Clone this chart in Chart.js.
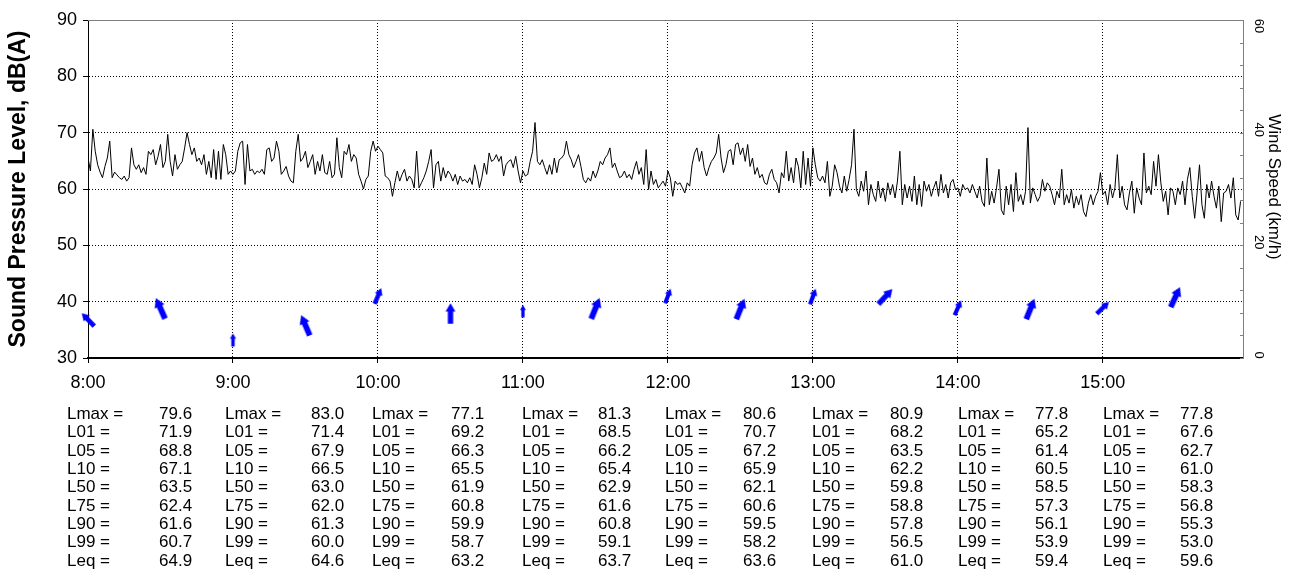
<!DOCTYPE html>
<html>
<head>
<meta charset="utf-8">
<script src="https://cdn.jsdelivr.net/npm/chart.js@4.4.1/dist/chart.umd.min.js"></script>
<style>
  html, body { margin: 0; padding: 0; background: #fff; }
  #wrap { position: relative; width: 1290px; height: 580px; overflow: hidden; }
  #c { position: absolute; left: 0; top: 0; }
  .cell { position: absolute; font: 17px "Liberation Sans", Arial, sans-serif; color: #000; white-space: pre; line-height: 18px; }
</style>
</head>
<body>
<div id="wrap">
  <canvas id="c" width="1290" height="580"></canvas>
  <div id="stats"></div>
</div>
<script>
// ---- hourly blocks (x axis labels) ----
const hourLabels = ['8:00', '9:00', '10:00', '11:00', '12:00', '13:00', '14:00', '15:00'];

// ---- one-minute sound pressure levels, dB(A), one array per hour ----
const spl08 = [65.5,63.2,70.6,66.7,64.3,63.0,62.0,64.0,65.5,68.5,62.0,63.0,62.5,62.0,61.7,62.3,61.4,62.0,67.3,64.3,
               63.5,64.3,62.9,63.8,62.6,66.7,66.1,67.0,64.3,65.8,67.9,63.8,64.9,69.7,64.9,62.3,66.1,63.5,64.3,64.9,
               67.3,70.0,67.9,66.1,67.3,64.9,65.5,64.3,66.1,62.6,64.9,62.0,67.0,61.7,66.7,61.7,67.9,66.1,62.6,63.2];
const spl09 = [62.6,63.2,66.7,68.2,68.5,60.8,67.9,63.2,63.5,62.6,63.2,62.9,63.5,62.6,67.0,67.3,64.9,65.5,68.5,66.7,
               62.6,63.2,64.0,62.3,61.4,61.1,66.7,69.7,64.9,65.5,66.7,63.8,64.9,66.1,62.6,64.9,63.2,66.1,62.9,62.6,
               64.9,62.0,62.6,69.1,63.8,62.0,66.7,66.1,67.9,64.9,66.1,65.5,62.6,61.4,60.0,61.7,62.3,66.7,68.5,66.7];
const spl10 = [67.6,67.0,66.4,62.3,62.0,61.4,58.7,61.1,63.2,61.4,62.6,63.5,61.4,62.3,61.7,60.2,66.7,60.2,61.1,62.0,
               63.2,64.9,67.0,60.2,64.3,64.9,61.4,63.8,62.0,63.2,62.6,61.4,62.6,60.8,62.3,61.4,61.7,61.1,62.0,60.8,
               64.3,62.6,60.2,62.0,64.6,62.6,66.4,64.9,65.2,66.1,64.9,65.8,62.3,64.3,64.9,65.2,63.8,65.8,63.2,61.1];
const spl11 = [63.2,62.3,62.6,64.9,66.7,71.8,64.9,64.3,65.2,63.8,62.6,64.3,62.6,65.5,62.9,65.2,65.5,66.1,68.5,66.1,
               65.2,63.8,64.9,66.1,64.0,61.7,61.1,62.0,61.4,63.2,62.0,63.2,64.9,64.3,65.5,66.1,67.3,63.8,64.6,63.2,
               62.0,62.3,63.2,62.0,62.6,61.7,63.5,64.9,62.6,63.8,60.8,67.0,59.9,63.2,60.8,61.7,60.2,60.8,61.4,60.5];
const spl12 = [63.2,62.0,58.7,61.4,60.8,61.1,60.2,59.3,61.1,60.5,64.3,66.4,67.3,64.9,66.7,63.8,62.3,63.8,64.9,65.5,
               66.4,69.7,65.5,62.9,64.3,66.7,67.0,64.3,67.9,68.2,66.1,67.3,64.9,67.9,64.0,65.5,62.6,63.8,62.0,62.6,
               61.1,60.8,62.6,63.5,61.7,61.1,59.3,62.9,62.0,66.7,61.4,63.8,61.1,65.5,64.0,60.2,66.7,60.8,65.5,60.5];
const spl13 = [67.3,64.3,62.0,61.4,62.3,61.1,64.9,58.7,60.5,64.3,62.9,60.5,59.3,62.3,59.6,61.7,64.3,70.6,59.9,58.7,
               61.4,59.6,63.2,57.2,60.8,59.0,57.8,61.4,58.4,60.2,57.8,61.1,59.0,60.8,58.4,61.4,66.7,57.2,60.8,58.4,
               60.5,57.8,62.3,57.2,60.8,56.9,61.4,59.6,60.8,58.7,60.2,61.4,58.7,62.6,59.3,60.8,58.4,61.1,61.7,59.9];
const spl14 = [60.2,58.7,60.8,59.9,60.2,59.3,60.8,59.6,58.4,60.5,57.8,56.9,65.5,57.2,59.6,57.5,60.2,63.5,56.3,55.4,
               60.5,57.2,60.8,56.0,62.9,57.8,59.0,57.2,59.6,70.9,57.5,60.2,59.0,57.8,58.7,61.7,59.6,61.1,60.5,59.0,
               57.2,59.6,58.4,63.5,57.2,59.0,57.5,59.9,56.6,58.7,57.2,59.0,56.0,55.1,57.5,59.0,57.2,58.7,59.6,62.9];
const spl15 = [59.0,59.6,57.2,60.8,58.4,60.2,66.1,58.4,60.5,57.2,56.3,59.3,61.4,55.7,60.2,58.4,57.2,66.4,59.3,60.5,
               59.0,64.9,60.5,66.1,61.1,57.8,59.6,55.4,60.2,59.6,57.2,60.2,59.0,61.4,57.2,61.7,63.8,58.7,54.8,59.3,
               64.3,57.2,54.8,60.8,58.4,61.4,58.7,56.6,60.5,54.2,59.3,59.6,60.8,58.4,62.0,55.4,54.5,57.8];

// ---- half-hourly wind: speed (km/h) and direction the arrow points (deg clockwise from up) ----
const windTime  = ['8:00','8:30','9:00','9:30','10:00','10:30','11:00','11:30','12:00','12:30','13:00','13:30','14:00','14:30','15:00','15:30'];
const windSpeed = [6.8, 8.8, 3.2, 5.8, 11.0, 7.9, 8.3, 8.8, 11.0, 8.7, 10.9, 10.9, 8.9, 8.7, 8.9, 10.8];
const windDir   = [316, 336, 0, 337, 23, 0, 0, 22, 21, 22, 20, 43, 24, 22, 46, 25];

// ---- hourly statistics, dB(A) ----
const lmax = [79.6, 83.0, 77.1, 81.3, 80.6, 80.9, 77.8, 77.8];
const l01  = [71.9, 71.4, 69.2, 68.5, 70.7, 68.2, 65.2, 67.6];
const l05  = [68.8, 67.9, 66.3, 66.2, 67.2, 63.5, 61.4, 62.7];
const l10  = [67.1, 66.5, 65.5, 65.4, 65.9, 62.2, 60.5, 61.0];
const l50  = [63.5, 63.0, 61.9, 62.9, 62.1, 59.8, 58.5, 58.3];
const l75  = [62.4, 62.0, 60.8, 61.6, 60.6, 58.8, 57.3, 56.8];
const l90  = [61.6, 61.3, 59.9, 60.8, 59.5, 57.8, 56.1, 55.3];
const l99  = [60.7, 60.0, 58.7, 59.1, 58.2, 56.5, 53.9, 53.0];
const leq  = [64.9, 64.6, 63.2, 63.7, 63.6, 61.0, 59.4, 59.6];

// ---- drawing styles ----
const FONT = '"Liberation Sans", Arial, sans-serif';
const ARROW_COLOR = '#0000ff';
const arrowLen = [18, 22.5, 13, 22, 17, 20.5, 12.5, 22.5, 15.5, 22, 16.5, 20.5, 16, 22, 17, 22];
const statLabelX = [67, 225, 372, 522, 665, 812, 958, 1103];
const statValueX = [159, 311, 451, 598, 743, 890, 1035, 1180];
const statTop0 = 405, statRowStep = 18.35;

// minutes after 8:00 for a clock string
const toMinutes = s => { const [h, m] = s.split(':').map(Number); return (h - 8) * 60 + m; };

// continuous one-minute series
const splSeries = [];
[spl08, spl09, spl10, spl11, spl12, spl13, spl14, spl15].forEach((arr, h) => {
  arr.forEach((v, i) => splSeries.push({ x: h * 60 + i, y: v }));
});
const windSeries = windTime.map((t, i) => ({ x: toMinutes(t), y: windSpeed[i] }));

// filled arrow pointing up, drawn into a small canvas used as a point style
function makeArrow(len) {
  const headW = len * 0.48, headL = len * 0.4, shaftW = len * 0.26;
  const w = Math.ceil(headW) + 2, h = Math.ceil(len) + 2;
  const c = document.createElement('canvas');
  c.width = w; c.height = h;
  const g = c.getContext('2d');
  const cx = w / 2, top = (h - len) / 2, bot = top + len;
  g.fillStyle = ARROW_COLOR;
  g.beginPath();
  g.moveTo(cx, top);
  g.lineTo(cx + headW / 2, top + headL);
  g.lineTo(cx + shaftW / 2, top + headL);
  g.lineTo(cx + shaftW / 2, bot);
  g.lineTo(cx - shaftW / 2, bot);
  g.lineTo(cx - shaftW / 2, top + headL);
  g.lineTo(cx - headW / 2, top + headL);
  g.closePath();
  g.fill();
  return c;
}
const arrowImages = arrowLen.map(makeArrow);

// frame top line, right-axis minor ticks, rotated right-axis labels and title
const framePlugin = {
  id: 'frame',
  afterDraw(chart) {
    const { ctx, chartArea: a } = chart;
    const y2 = chart.scales.y2;
    ctx.save();
    ctx.strokeStyle = '#808080';
    ctx.lineWidth = 1;
    ctx.beginPath();
    ctx.moveTo(a.left, a.top + 0.5);
    ctx.lineTo(a.right, a.top + 0.5);
    ctx.stroke();
    for (let v = 0; v <= 60; v += 4) {
      const p = Math.round(y2.getPixelForValue(v)) + 0.5;
      ctx.beginPath();
      ctx.moveTo(a.right - 3, p);
      ctx.lineTo(a.right, p);
      ctx.stroke();
    }
    ctx.fillStyle = '#000';
    ctx.textAlign = 'center';
    ctx.textBaseline = 'middle';
    ctx.font = '13px ' + FONT;
    [0, 20, 40, 60].forEach(v => {
      const p = Math.max(y2.getPixelForValue(v) - 3, a.top + 6);
      ctx.save();
      ctx.translate(a.right + 16, p);
      ctx.rotate(Math.PI / 2);
      ctx.fillText(String(v), 0, 0);
      ctx.restore();
    });
    ctx.font = '17px ' + FONT;
    ctx.save();
    ctx.translate(a.right + 31, (a.top + a.bottom) / 2 - 2);
    ctx.rotate(Math.PI / 2);
    ctx.fillText('Wind Speed (km/h)', 0, 0);
    ctx.restore();
    ctx.restore();
  }
};

Chart.defaults.font.family = FONT;
Chart.defaults.color = '#000';

new Chart(document.getElementById('c'), {
  type: 'line',
  data: {
    datasets: [
      {
        type: 'scatter',
        data: windSeries,
        yAxisID: 'y2',
        showLine: false,
        clip: false,
        pointRadius: 10,
        pointStyle: ctx => arrowImages[ctx.dataIndex],
        rotation: ctx => windDir[ctx.dataIndex],
        order: 0
      },
      {
        data: splSeries,
        yAxisID: 'y',
        borderColor: '#000',
        borderWidth: 1,
        pointRadius: 0,
        tension: 0,
        order: 1
      }
    ]
  },
  options: {
    responsive: false,
    animation: false,
    events: [],
    layout: { padding: { left: 0, right: 0, top: 20, bottom: 180 } },
    plugins: { legend: { display: false }, tooltip: { enabled: false } },
    scales: {
      x: {
        type: 'linear',
        min: 0,
        max: 478,
        afterFit: s => { s.height = 42; },
        afterBuildTicks: s => { s.ticks = hourLabels.map((_, i) => ({ value: i * 60 })); },
        ticks: {
          autoSkip: false,
          maxRotation: 0,
          minRotation: 0,
          padding: 9,
          font: { size: 18 },
          callback: v => hourLabels[Math.round(v / 60)]
        },
        grid: { color: '#000', lineWidth: 1, tickLength: 5, tickColor: '#000' },
        border: { color: '#000', width: 2, dash: [1, 2] }
      },
      y: {
        position: 'left',
        min: 30,
        max: 90,
        afterFit: s => { s.width = 88; },
        ticks: { stepSize: 10, padding: 6, font: { size: 18 } },
        grid: { color: '#000', lineWidth: 1, tickLength: 5, tickColor: '#000' },
        border: { color: '#000', width: 1, dash: [1, 2] },
        title: {
          display: true,
          text: 'Sound Pressure Level, dB(A)',
          font: { size: 23, weight: 'bold' },
          padding: { top: 5, bottom: 0 }
        }
      },
      y2: {
        position: 'right',
        min: 0,
        max: 60,
        afterFit: s => { s.width = 47; },
        ticks: { display: false },
        grid: { drawOnChartArea: false, drawTicks: false },
        border: { color: '#808080', width: 1 }
      }
    }
  },
  plugins: [framePlugin]
});

// hourly statistics table under the chart
const statRows = [
  ['Lmax =', lmax], ['L01 =', l01], ['L05 =', l05], ['L10 =', l10], ['L50 =', l50],
  ['L75 =', l75], ['L90 =', l90], ['L99 =', l99], ['Leq =', leq]
];
const box = document.getElementById('stats');
statRows.forEach(([label, vals], r) => {
  const top = statTop0 + r * statRowStep;
  vals.forEach((v, j) => {
    const a = document.createElement('div');
    a.className = 'cell';
    a.style.left = statLabelX[j] + 'px';
    a.style.top = top + 'px';
    a.textContent = label;
    box.appendChild(a);
    const b = document.createElement('div');
    b.className = 'cell';
    b.style.left = statValueX[j] + 'px';
    b.style.top = top + 'px';
    b.textContent = v.toFixed(1);
    box.appendChild(b);
  });
});
</script>
</body>
</html>
